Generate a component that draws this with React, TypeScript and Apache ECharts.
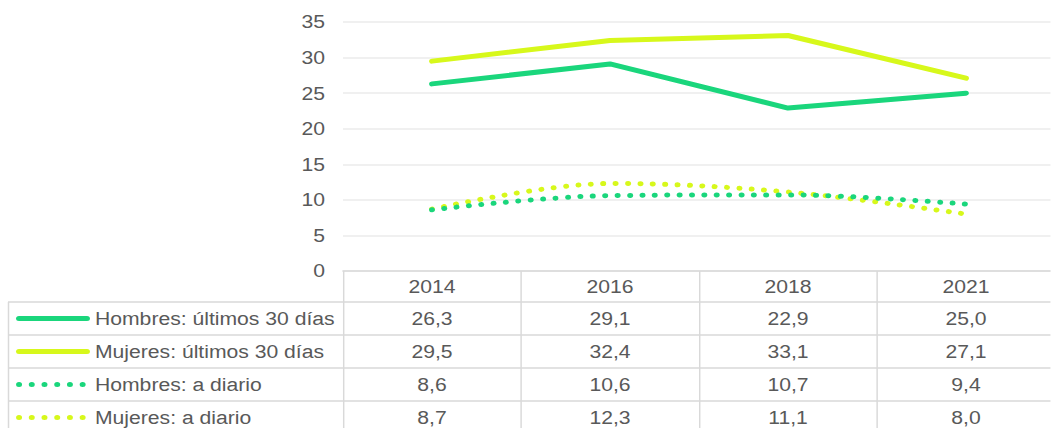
import React, { useEffect, useRef } from "react";
import * as echarts from "echarts";

const years = ["2014", "2016", "2018", "2021"];
const hombres30 = [26.3, 29.1, 22.9, 25.0];
const mujeres30 = [29.5, 32.4, 33.1, 27.1];
const hombresDiario = [8.6, 10.6, 10.7, 9.4];
const mujeresDiario = [8.7, 12.3, 11.1, 8.0];
const seriesNames = [
  "Hombres: últimos 30 días",
  "Mujeres: últimos 30 días",
  "Hombres: a diario",
  "Mujeres: a diario",
];

const GREEN = "#1AD67C";
const YELLOW = "#D7F81B";
const TEXT = "#595959";
const BORDER = "#D9D9D9";
const FONT = "'Liberation Sans', Arial, sans-serif";
// The reference picture is horizontally stretched; reproduce with a CSS scaleX.
const SX = 1.175;
const W = 1051;
const H = 428;

const fmt = (v: number) => v.toFixed(1).replace(".", ",");

export default function App() {
  const ref = useRef<HTMLDivElement>(null);
  useEffect(() => {
    if (!ref.current) return;
    const chart = echarts.init(ref.current, undefined, { renderer: "svg" });
    const allSeries = [hombres30, mujeres30, hombresDiario, mujeresDiario];
    const colors = [GREEN, YELLOW, GREEN, YELLOW];
    const dotted = [false, false, true, true];

    const px = (x: number) => x / SX;
    const plotLeft = px(343);
    const plotTop = 22;
    const plotBottom = 271;
    const headerH = 31;
    const rowH = 33;
    const rowLines = [0, 1, 2, 3].map((i) => plotBottom + headerH + i * rowH);

    const graphics: any[] = [];
    rowLines.forEach((y) => {
      graphics.push({
        type: "line",
        shape: { x1: px(8), y1: y, x2: px(1060), y2: y },
        style: { stroke: BORDER, lineWidth: 1.5 },
        silent: true,
      });
    });
    graphics.push({
      type: "line",
      shape: { x1: px(8.5), y1: rowLines[0], x2: px(8.5), y2: 440 },
      style: { stroke: BORDER, lineWidth: 1.25 },
    });
    seriesNames.forEach((name, i) => {
      const cy = rowLines[0] + rowH * i + rowH / 2;
      graphics.push({
        type: "line",
        shape: { x1: px(19), y1: cy, x2: px(dotted[i] ? 84 : 87), y2: cy },
        style: {
          stroke: colors[i],
          lineWidth: 5,
          lineCap: "round",
          lineDash: dotted[i] ? [0.1, px(12.6)] : null,
        },
      });
      graphics.push({
        type: "text",
        x: px(95),
        y: cy,
        style: {
          text: name,
          fill: TEXT,
          font: `18px ${FONT}`,
          verticalAlign: "middle",
          align: "left",
        },
      });
    });

    const rowAxes = allSeries.map((vals, i) => ({
      type: "category",
      data: vals.map(fmt),
      position: "bottom",
      offset: headerH + rowH * i + 1,
      axisLine: { show: false },
      axisTick: { show: false },
      splitLine: { show: false },
      axisLabel: {
        interval: 0,
        color: TEXT,
        fontSize: 18,
        fontFamily: FONT,
        margin: 7,
      },
    }));

    chart.setOption({
      animation: false,
      grid: {
        left: plotLeft,
        top: plotTop,
        width: px(712),
        height: plotBottom - plotTop,
        outerBoundsMode: "none",
        containLabel: false,
      },
      xAxis: [
        {
          type: "category",
          data: years,
          boundaryGap: true,
          axisLine: { show: true, lineStyle: { color: BORDER, width: 1.5 } },
          axisTick: {
            show: true,
            interval: 0,
            length: 170,
            lineStyle: { color: BORDER, width: 1.25 },
          },
          axisLabel: {
            interval: 0,
            color: TEXT,
            fontSize: 18,
            fontFamily: FONT,
            margin: 7,
          },
          splitLine: { show: false },
        },
        ...rowAxes,
      ],
      yAxis: {
        type: "value",
        min: 0,
        max: 35,
        interval: 5,
        axisLine: { show: false },
        axisTick: { show: false },
        axisLabel: { color: TEXT, fontSize: 18, fontFamily: FONT, margin: px(18) },
        splitLine: { lineStyle: { color: "#EBEBEB", width: 1.5 } },
      },
      series: allSeries.map((vals, i) => ({
        name: seriesNames[i],
        type: "line",
        xAxisIndex: 0,
        data: vals,
        symbol: "none",
        smooth: dotted[i] ? 0.35 : false,
        lineStyle: {
          color: colors[i],
          width: 5,
          cap: "round",
          join: "round",
          type: dotted[i] ? [0.1, px(12.3)] : "solid",
        },
        z: 4 - i,
      })),
      graphic: graphics,
    });
    return () => chart.dispose();
  }, []);
  return (
    <div
      style={{
        position: "fixed",
        left: 0,
        top: 0,
        width: W,
        height: H,
        overflow: "hidden",
        background: "#fff",
      }}
    >
      <div
        ref={ref}
        style={{
          width: W / SX,
          height: H,
          transform: `scaleX(${SX})`,
          transformOrigin: "0 0",
        }}
      />
    </div>
  );
}
